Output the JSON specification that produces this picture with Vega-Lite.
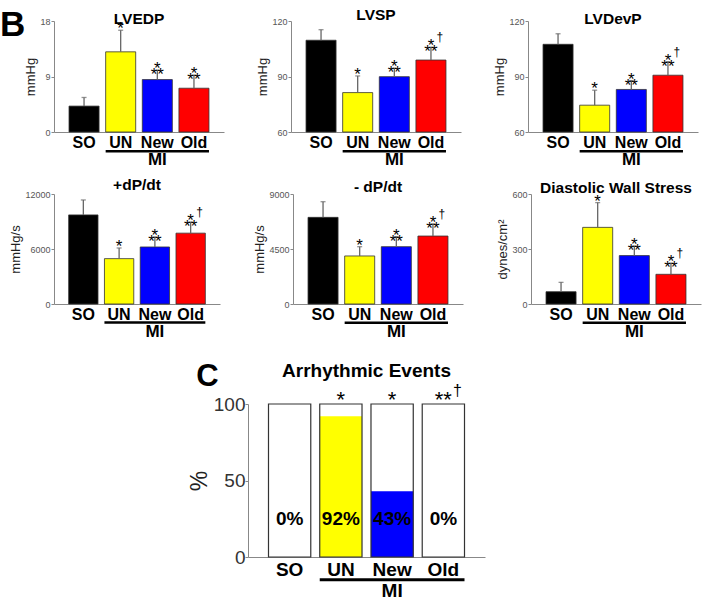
{
"$schema": "https://vega.github.io/schema/vega-lite/v6.json",
"background": "white",
"padding": {"left": 0, "right": 2, "top": 8, "bottom": 2},
"datasets": {
"bars": [
{"panel":"LVEDP","group":"SO","mean":4.2,"hi":5.6,"sig":"","dag":""},
{"panel":"LVEDP","group":"UN","mean":13.0,"hi":16.5,"sig":"*","dag":""},
{"panel":"LVEDP","group":"New","mean":8.5,"hi":10.0,"sig":"*\n**","dag":""},
{"panel":"LVEDP","group":"Old","mean":7.1,"hi":9.2,"sig":"*\n**","dag":""},
{"panel":"LVSP","group":"SO","mean":109.6,"hi":115.3,"sig":"","dag":""},
{"panel":"LVSP","group":"UN","mean":81.3,"hi":90.3,"sig":"*","dag":""},
{"panel":"LVSP","group":"New","mean":89.9,"hi":94.4,"sig":"*\n**","dag":""},
{"panel":"LVSP","group":"Old","mean":98.9,"hi":105.7,"sig":"*\n**","dag":"†"},
{"panel":"LVDevP","group":"SO","mean":107.4,"hi":113.1,"sig":"","dag":""},
{"panel":"LVDevP","group":"UN","mean":74.5,"hi":82.6,"sig":"*","dag":""},
{"panel":"LVDevP","group":"New","mean":83.0,"hi":87.8,"sig":"*\n**","dag":""},
{"panel":"LVDevP","group":"Old","mean":90.7,"hi":98.0,"sig":"*\n**","dag":"†"},
{"panel":"+dP/dt","group":"SO","mean":9720,"hi":11350,"sig":"","dag":""},
{"panel":"+dP/dt","group":"UN","mean":4950,"hi":6110,"sig":"*","dag":""},
{"panel":"+dP/dt","group":"New","mean":6220,"hi":7300,"sig":"*\n**","dag":""},
{"panel":"+dP/dt","group":"Old","mean":7730,"hi":8930,"sig":"*\n**","dag":"†"},
{"panel":"-dP/dt","group":"SO","mean":7090,"hi":8370,"sig":"","dag":""},
{"panel":"-dP/dt","group":"UN","mean":3930,"hi":4690,"sig":"*","dag":""},
{"panel":"-dP/dt","group":"New","mean":4690,"hi":5510,"sig":"*\n**","dag":""},
{"panel":"-dP/dt","group":"Old","mean":5560,"hi":6550,"sig":"*\n**","dag":"†"},
{"panel":"DWS","group":"SO","mean":67,"hi":118,"sig":"","dag":""},
{"panel":"DWS","group":"UN","mean":418,"hi":553,"sig":"*","dag":""},
{"panel":"DWS","group":"New","mean":264,"hi":316,"sig":"*\n**","dag":""},
{"panel":"DWS","group":"Old","mean":162,"hi":222,"sig":"*\n**","dag":"†"}
],
"mi": [
{"panel":"LVEDP","from":"UN","to":"Old","mid":"New","lineY":-3.11,"textY":-4.6,"label":"MI"},
{"panel":"LVSP","from":"UN","to":"Old","mid":"New","lineY":49.6,"textY":44.7,"label":"MI"},
{"panel":"LVDevP","from":"UN","to":"Old","mid":"New","lineY":49.6,"textY":44.7,"label":"MI"},
{"panel":"+dP/dt","from":"UN","to":"Old","mid":"New","lineY":-2027,"textY":-3089,"label":"MI"},
{"panel":"-dP/dt","from":"UN","to":"Old","mid":"New","lineY":-1530,"textY":-2331,"label":"MI"},
{"panel":"DWS","from":"UN","to":"Old","mid":"New","lineY":-102,"textY":-155,"label":"MI"},
{"panel":"ARR","from":"UN","to":"Old","mid":"New","lineY":-14.8,"textY":-22.1,"label":"MI"}
],
"arr": [
{"group":"SO","value":0,"full":100,"pct":"0%","labelY":25,"sig":"","dag":""},
{"group":"UN","value":92,"full":100,"pct":"92%","labelY":25,"sig":"*","dag":""},
{"group":"New","value":43,"full":100,"pct":"43%","labelY":25,"sig":"*","dag":""},
{"group":"Old","value":0,"full":100,"pct":"0%","labelY":25,"sig":"**","dag":"†"}
],
"blank": [{"item": "spacer"}]
},
"title": {"text": "B", "anchor": "start", "frame": "bounds", "fontSize": 35, "fontWeight": "bold", "offset": -35},
"spacing": 20,
"vconcat": [
{
"spacing": 9,
"vconcat": [
{
"spacing": 0,
"hconcat": [
{"width": 24, "height": 1, "data": {"name": "blank"}, "mark": {"type": "point", "opacity": 0}, "encoding": {}},
{
"spacing": 32,
"hconcat": [
{
"width": 170, "height": 111, "title": {"text": "LVEDP"},
"layer": [
{"data": {"name": "bars"}, "transform": [{"filter": "datum.panel === 'LVEDP'"}],
 "mark": {"type": "bar", "stroke": "#333", "strokeWidth": 0.8},
 "encoding": {
  "x": {"field": "group", "type": "nominal", "title": null, "scale": {"domain": ["SO","UN","New","Old"], "paddingInner": 0.18, "paddingOuter": 0.41, "align": 0.5}},
  "y": {"field": "mean", "type": "quantitative", "title": "mmHg", "scale": {"domain": [0, 18], "nice": false, "zero": false}, "axis": {"values": [0, 9, 18]}},
  "y2": {"datum": 0},
  "color": {"field": "group", "type": "nominal", "scale": {"domain": ["SO","UN","New","Old"], "range": ["#000000","#ffff00","#0000ff","#ff0000"]}, "legend": null}
 }},
{"data": {"name": "bars"}, "transform": [{"filter": "datum.panel === 'LVEDP'"}],
 "mark": {"type": "rule", "color": "#666", "strokeWidth": 1.3},
 "encoding": {"x": {"field": "group", "type": "nominal", "title": null}, "y": {"field": "mean", "type": "quantitative", "title": "mmHg"}, "y2": {"field": "hi"}}},
{"data": {"name": "bars"}, "transform": [{"filter": "datum.panel === 'LVEDP'"}],
 "mark": {"type": "tick", "color": "#666", "size": 5, "thickness": 1.3},
 "encoding": {"x": {"field": "group", "type": "nominal", "title": null}, "y": {"field": "hi", "type": "quantitative", "title": "mmHg"}}},
{"data": {"name": "bars"}, "transform": [{"filter": "datum.panel === 'LVEDP'"}],
 "mark": {"type": "text", "fill": "#000", "fontSize": 17, "lineHeight": 6, "lineBreak": "\n", "baseline": "bottom", "dy": 8},
 "encoding": {"x": {"field": "group", "type": "nominal", "title": null}, "y": {"field": "hi", "type": "quantitative", "title": "mmHg"}, "text": {"field": "sig"}}},
{"data": {"name": "mi"}, "transform": [{"filter": "datum.panel === 'LVEDP'"}],
 "mark": {"type": "rule", "color": "#000", "strokeWidth": 2.5},
 "encoding": {"x": {"field": "from", "type": "nominal", "bandPosition": 0, "title": null}, "x2": {"field": "to", "bandPosition": 1}, "y": {"field": "lineY", "type": "quantitative", "title": "mmHg"}}},
{"data": {"name": "mi"}, "transform": [{"filter": "datum.panel === 'LVEDP'"}],
 "mark": {"type": "text", "fill": "#000", "fontSize": 17, "fontWeight": "bold", "baseline": "middle"},
 "encoding": {"x": {"field": "mid", "type": "nominal", "title": null}, "y": {"field": "textY", "type": "quantitative", "title": "mmHg"}, "text": {"field": "label"}}}
]
},
{
"width": 170, "height": 111, "title": {"text": "LVSP"},
"layer": [
{"data": {"name": "bars"}, "transform": [{"filter": "datum.panel === 'LVSP'"}],
 "mark": {"type": "bar", "stroke": "#333", "strokeWidth": 0.8},
 "encoding": {
  "x": {"field": "group", "type": "nominal", "title": null, "scale": {"domain": ["SO","UN","New","Old"], "paddingInner": 0.18, "paddingOuter": 0.41, "align": 0.5}},
  "y": {"field": "mean", "type": "quantitative", "title": "mmHg", "scale": {"domain": [60, 120], "nice": false, "zero": false}, "axis": {"values": [60, 90, 120]}},
  "y2": {"datum": 60},
  "color": {"field": "group", "type": "nominal", "scale": {"domain": ["SO","UN","New","Old"], "range": ["#000000","#ffff00","#0000ff","#ff0000"]}, "legend": null}
 }},
{"data": {"name": "bars"}, "transform": [{"filter": "datum.panel === 'LVSP'"}],
 "mark": {"type": "rule", "color": "#666", "strokeWidth": 1.3},
 "encoding": {"x": {"field": "group", "type": "nominal", "title": null}, "y": {"field": "mean", "type": "quantitative", "title": "mmHg"}, "y2": {"field": "hi"}}},
{"data": {"name": "bars"}, "transform": [{"filter": "datum.panel === 'LVSP'"}],
 "mark": {"type": "tick", "color": "#666", "size": 5, "thickness": 1.3},
 "encoding": {"x": {"field": "group", "type": "nominal", "title": null}, "y": {"field": "hi", "type": "quantitative", "title": "mmHg"}}},
{"data": {"name": "bars"}, "transform": [{"filter": "datum.panel === 'LVSP'"}],
 "mark": {"type": "text", "fill": "#000", "fontSize": 17, "lineHeight": 6, "lineBreak": "\n", "baseline": "bottom", "dy": 8},
 "encoding": {"x": {"field": "group", "type": "nominal", "title": null}, "y": {"field": "hi", "type": "quantitative", "title": "mmHg"}, "text": {"field": "sig"}}},
{"data": {"name": "bars"}, "transform": [{"filter": "datum.panel === 'LVSP'"}],
 "mark": {"type": "text", "fill": "#000", "fontSize": 12, "baseline": "middle", "dx": 9, "dy": -10},
 "encoding": {"x": {"field": "group", "type": "nominal", "title": null}, "y": {"field": "hi", "type": "quantitative", "title": "mmHg"}, "text": {"field": "dag"}}},
{"data": {"name": "mi"}, "transform": [{"filter": "datum.panel === 'LVSP'"}],
 "mark": {"type": "rule", "color": "#000", "strokeWidth": 2.5},
 "encoding": {"x": {"field": "from", "type": "nominal", "bandPosition": 0, "title": null}, "x2": {"field": "to", "bandPosition": 1}, "y": {"field": "lineY", "type": "quantitative", "title": "mmHg"}}},
{"data": {"name": "mi"}, "transform": [{"filter": "datum.panel === 'LVSP'"}],
 "mark": {"type": "text", "fill": "#000", "fontSize": 17, "fontWeight": "bold", "baseline": "middle"},
 "encoding": {"x": {"field": "mid", "type": "nominal", "title": null}, "y": {"field": "textY", "type": "quantitative", "title": "mmHg"}, "text": {"field": "label"}}}
]
},
{
"width": 170, "height": 111, "title": {"text": "LVDevP"},
"layer": [
{"data": {"name": "bars"}, "transform": [{"filter": "datum.panel === 'LVDevP'"}],
 "mark": {"type": "bar", "stroke": "#333", "strokeWidth": 0.8},
 "encoding": {
  "x": {"field": "group", "type": "nominal", "title": null, "scale": {"domain": ["SO","UN","New","Old"], "paddingInner": 0.18, "paddingOuter": 0.41, "align": 0.5}},
  "y": {"field": "mean", "type": "quantitative", "title": "mmHg", "scale": {"domain": [60, 120], "nice": false, "zero": false}, "axis": {"values": [60, 90, 120]}},
  "y2": {"datum": 60},
  "color": {"field": "group", "type": "nominal", "scale": {"domain": ["SO","UN","New","Old"], "range": ["#000000","#ffff00","#0000ff","#ff0000"]}, "legend": null}
 }},
{"data": {"name": "bars"}, "transform": [{"filter": "datum.panel === 'LVDevP'"}],
 "mark": {"type": "rule", "color": "#666", "strokeWidth": 1.3},
 "encoding": {"x": {"field": "group", "type": "nominal", "title": null}, "y": {"field": "mean", "type": "quantitative", "title": "mmHg"}, "y2": {"field": "hi"}}},
{"data": {"name": "bars"}, "transform": [{"filter": "datum.panel === 'LVDevP'"}],
 "mark": {"type": "tick", "color": "#666", "size": 5, "thickness": 1.3},
 "encoding": {"x": {"field": "group", "type": "nominal", "title": null}, "y": {"field": "hi", "type": "quantitative", "title": "mmHg"}}},
{"data": {"name": "bars"}, "transform": [{"filter": "datum.panel === 'LVDevP'"}],
 "mark": {"type": "text", "fill": "#000", "fontSize": 17, "lineHeight": 6, "lineBreak": "\n", "baseline": "bottom", "dy": 8},
 "encoding": {"x": {"field": "group", "type": "nominal", "title": null}, "y": {"field": "hi", "type": "quantitative", "title": "mmHg"}, "text": {"field": "sig"}}},
{"data": {"name": "bars"}, "transform": [{"filter": "datum.panel === 'LVDevP'"}],
 "mark": {"type": "text", "fill": "#000", "fontSize": 12, "baseline": "middle", "dx": 9, "dy": -10},
 "encoding": {"x": {"field": "group", "type": "nominal", "title": null}, "y": {"field": "hi", "type": "quantitative", "title": "mmHg"}, "text": {"field": "dag"}}},
{"data": {"name": "mi"}, "transform": [{"filter": "datum.panel === 'LVDevP'"}],
 "mark": {"type": "rule", "color": "#000", "strokeWidth": 2.5},
 "encoding": {"x": {"field": "from", "type": "nominal", "bandPosition": 0, "title": null}, "x2": {"field": "to", "bandPosition": 1}, "y": {"field": "lineY", "type": "quantitative", "title": "mmHg"}}},
{"data": {"name": "mi"}, "transform": [{"filter": "datum.panel === 'LVDevP'"}],
 "mark": {"type": "text", "fill": "#000", "fontSize": 17, "fontWeight": "bold", "baseline": "middle"},
 "encoding": {"x": {"field": "mid", "type": "nominal", "title": null}, "y": {"field": "textY", "type": "quantitative", "title": "mmHg"}, "text": {"field": "label"}}}
]
}
]
}
]
},
{
"spacing": 0,
"hconcat": [
{"width": 9, "height": 1, "data": {"name": "blank"}, "mark": {"type": "point", "opacity": 0}, "encoding": {}},
{
"spacing": 33,
"hconcat": [
{
"width": 166, "height": 110, "title": {"text": "+dP/dt"},
"layer": [
{"data": {"name": "bars"}, "transform": [{"filter": "datum.panel === '+dP/dt'"}],
 "mark": {"type": "bar", "stroke": "#333", "strokeWidth": 0.8},
 "encoding": {
  "x": {"field": "group", "type": "nominal", "title": null, "scale": {"domain": ["SO","UN","New","Old"], "paddingInner": 0.18, "paddingOuter": 0.41, "align": 0.5}},
  "y": {"field": "mean", "type": "quantitative", "title": "mmHg/s", "scale": {"domain": [0, 12000], "nice": false, "zero": false}, "axis": {"values": [0, 6000, 12000], "format": "d"}},
  "y2": {"datum": 0},
  "color": {"field": "group", "type": "nominal", "scale": {"domain": ["SO","UN","New","Old"], "range": ["#000000","#ffff00","#0000ff","#ff0000"]}, "legend": null}
 }},
{"data": {"name": "bars"}, "transform": [{"filter": "datum.panel === '+dP/dt'"}],
 "mark": {"type": "rule", "color": "#666", "strokeWidth": 1.3},
 "encoding": {"x": {"field": "group", "type": "nominal", "title": null}, "y": {"field": "mean", "type": "quantitative", "title": "mmHg/s"}, "y2": {"field": "hi"}}},
{"data": {"name": "bars"}, "transform": [{"filter": "datum.panel === '+dP/dt'"}],
 "mark": {"type": "tick", "color": "#666", "size": 5, "thickness": 1.3},
 "encoding": {"x": {"field": "group", "type": "nominal", "title": null}, "y": {"field": "hi", "type": "quantitative", "title": "mmHg/s"}}},
{"data": {"name": "bars"}, "transform": [{"filter": "datum.panel === '+dP/dt'"}],
 "mark": {"type": "text", "fill": "#000", "fontSize": 17, "lineHeight": 6, "lineBreak": "\n", "baseline": "bottom", "dy": 8},
 "encoding": {"x": {"field": "group", "type": "nominal", "title": null}, "y": {"field": "hi", "type": "quantitative", "title": "mmHg/s"}, "text": {"field": "sig"}}},
{"data": {"name": "bars"}, "transform": [{"filter": "datum.panel === '+dP/dt'"}],
 "mark": {"type": "text", "fill": "#000", "fontSize": 12, "baseline": "middle", "dx": 9, "dy": -10},
 "encoding": {"x": {"field": "group", "type": "nominal", "title": null}, "y": {"field": "hi", "type": "quantitative", "title": "mmHg/s"}, "text": {"field": "dag"}}},
{"data": {"name": "mi"}, "transform": [{"filter": "datum.panel === '+dP/dt'"}],
 "mark": {"type": "rule", "color": "#000", "strokeWidth": 2.5},
 "encoding": {"x": {"field": "from", "type": "nominal", "bandPosition": 0, "title": null}, "x2": {"field": "to", "bandPosition": 1}, "y": {"field": "lineY", "type": "quantitative", "title": "mmHg/s"}}},
{"data": {"name": "mi"}, "transform": [{"filter": "datum.panel === '+dP/dt'"}],
 "mark": {"type": "text", "fill": "#000", "fontSize": 17, "fontWeight": "bold", "baseline": "middle"},
 "encoding": {"x": {"field": "mid", "type": "nominal", "title": null}, "y": {"field": "textY", "type": "quantitative", "title": "mmHg/s"}, "text": {"field": "label"}}}
]
},
{
"width": 170, "height": 110, "title": {"text": "- dP/dt"},
"layer": [
{"data": {"name": "bars"}, "transform": [{"filter": "datum.panel === '-dP/dt'"}],
 "mark": {"type": "bar", "stroke": "#333", "strokeWidth": 0.8},
 "encoding": {
  "x": {"field": "group", "type": "nominal", "title": null, "scale": {"domain": ["SO","UN","New","Old"], "paddingInner": 0.18, "paddingOuter": 0.41, "align": 0.5}},
  "y": {"field": "mean", "type": "quantitative", "title": "mmHg/s", "scale": {"domain": [0, 9000], "nice": false, "zero": false}, "axis": {"values": [0, 4500, 9000], "format": "d"}},
  "y2": {"datum": 0},
  "color": {"field": "group", "type": "nominal", "scale": {"domain": ["SO","UN","New","Old"], "range": ["#000000","#ffff00","#0000ff","#ff0000"]}, "legend": null}
 }},
{"data": {"name": "bars"}, "transform": [{"filter": "datum.panel === '-dP/dt'"}],
 "mark": {"type": "rule", "color": "#666", "strokeWidth": 1.3},
 "encoding": {"x": {"field": "group", "type": "nominal", "title": null}, "y": {"field": "mean", "type": "quantitative", "title": "mmHg/s"}, "y2": {"field": "hi"}}},
{"data": {"name": "bars"}, "transform": [{"filter": "datum.panel === '-dP/dt'"}],
 "mark": {"type": "tick", "color": "#666", "size": 5, "thickness": 1.3},
 "encoding": {"x": {"field": "group", "type": "nominal", "title": null}, "y": {"field": "hi", "type": "quantitative", "title": "mmHg/s"}}},
{"data": {"name": "bars"}, "transform": [{"filter": "datum.panel === '-dP/dt'"}],
 "mark": {"type": "text", "fill": "#000", "fontSize": 17, "lineHeight": 6, "lineBreak": "\n", "baseline": "bottom", "dy": 8},
 "encoding": {"x": {"field": "group", "type": "nominal", "title": null}, "y": {"field": "hi", "type": "quantitative", "title": "mmHg/s"}, "text": {"field": "sig"}}},
{"data": {"name": "bars"}, "transform": [{"filter": "datum.panel === '-dP/dt'"}],
 "mark": {"type": "text", "fill": "#000", "fontSize": 12, "baseline": "middle", "dx": 9, "dy": -10},
 "encoding": {"x": {"field": "group", "type": "nominal", "title": null}, "y": {"field": "hi", "type": "quantitative", "title": "mmHg/s"}, "text": {"field": "dag"}}},
{"data": {"name": "mi"}, "transform": [{"filter": "datum.panel === '-dP/dt'"}],
 "mark": {"type": "rule", "color": "#000", "strokeWidth": 2.5},
 "encoding": {"x": {"field": "from", "type": "nominal", "bandPosition": 0, "title": null}, "x2": {"field": "to", "bandPosition": 1}, "y": {"field": "lineY", "type": "quantitative", "title": "mmHg/s"}}},
{"data": {"name": "mi"}, "transform": [{"filter": "datum.panel === '-dP/dt'"}],
 "mark": {"type": "text", "fill": "#000", "fontSize": 17, "fontWeight": "bold", "baseline": "middle"},
 "encoding": {"x": {"field": "mid", "type": "nominal", "title": null}, "y": {"field": "textY", "type": "quantitative", "title": "mmHg/s"}, "text": {"field": "label"}}}
]
},
{
"width": 170, "height": 110, "title": {"text": "Diastolic Wall Stress"},
"layer": [
{"data": {"name": "bars"}, "transform": [{"filter": "datum.panel === 'DWS'"}],
 "mark": {"type": "bar", "stroke": "#333", "strokeWidth": 0.8},
 "encoding": {
  "x": {"field": "group", "type": "nominal", "title": null, "scale": {"domain": ["SO","UN","New","Old"], "paddingInner": 0.18, "paddingOuter": 0.41, "align": 0.5}},
  "y": {"field": "mean", "type": "quantitative", "title": "dynes/cm²", "scale": {"domain": [0, 600], "nice": false, "zero": false}, "axis": {"values": [0, 300, 600]}},
  "y2": {"datum": 0},
  "color": {"field": "group", "type": "nominal", "scale": {"domain": ["SO","UN","New","Old"], "range": ["#000000","#ffff00","#0000ff","#ff0000"]}, "legend": null}
 }},
{"data": {"name": "bars"}, "transform": [{"filter": "datum.panel === 'DWS'"}],
 "mark": {"type": "rule", "color": "#666", "strokeWidth": 1.3},
 "encoding": {"x": {"field": "group", "type": "nominal", "title": null}, "y": {"field": "mean", "type": "quantitative", "title": "dynes/cm²"}, "y2": {"field": "hi"}}},
{"data": {"name": "bars"}, "transform": [{"filter": "datum.panel === 'DWS'"}],
 "mark": {"type": "tick", "color": "#666", "size": 5, "thickness": 1.3},
 "encoding": {"x": {"field": "group", "type": "nominal", "title": null}, "y": {"field": "hi", "type": "quantitative", "title": "dynes/cm²"}}},
{"data": {"name": "bars"}, "transform": [{"filter": "datum.panel === 'DWS'"}],
 "mark": {"type": "text", "fill": "#000", "fontSize": 17, "lineHeight": 6, "lineBreak": "\n", "baseline": "bottom", "dy": 8},
 "encoding": {"x": {"field": "group", "type": "nominal", "title": null}, "y": {"field": "hi", "type": "quantitative", "title": "dynes/cm²"}, "text": {"field": "sig"}}},
{"data": {"name": "bars"}, "transform": [{"filter": "datum.panel === 'DWS'"}],
 "mark": {"type": "text", "fill": "#000", "fontSize": 12, "baseline": "middle", "dx": 9, "dy": -10},
 "encoding": {"x": {"field": "group", "type": "nominal", "title": null}, "y": {"field": "hi", "type": "quantitative", "title": "dynes/cm²"}, "text": {"field": "dag"}}},
{"data": {"name": "mi"}, "transform": [{"filter": "datum.panel === 'DWS'"}],
 "mark": {"type": "rule", "color": "#000", "strokeWidth": 2.5},
 "encoding": {"x": {"field": "from", "type": "nominal", "bandPosition": 0, "title": null}, "x2": {"field": "to", "bandPosition": 1}, "y": {"field": "lineY", "type": "quantitative", "title": "dynes/cm²"}}},
{"data": {"name": "mi"}, "transform": [{"filter": "datum.panel === 'DWS'"}],
 "mark": {"type": "text", "fill": "#000", "fontSize": 17, "fontWeight": "bold", "baseline": "middle"},
 "encoding": {"x": {"field": "mid", "type": "nominal", "title": null}, "y": {"field": "textY", "type": "quantitative", "title": "dynes/cm²"}, "text": {"field": "label"}}}
]
}
]
}
]
}
]
},
{
"spacing": 0,
"hconcat": [
{"width": 188, "height": 1, "data": {"name": "blank"}, "mark": {"type": "point", "opacity": 0}, "encoding": {}},
{
"title": {"text": "C", "anchor": "start", "frame": "bounds", "fontSize": 31, "fontWeight": "bold", "offset": -31, "dx": 8},
"vconcat": [
{
"width": 237, "height": 153, "title": {"text": "Arrhythmic Events", "fontSize": 19, "offset": 2},
"layer": [
{"data": {"name": "arr"},
 "mark": {"type": "bar"},
 "encoding": {
  "x": {"field": "group", "type": "nominal", "title": null, "scale": {"domain": ["SO","UN","New","Old"], "paddingInner": 0.175, "paddingOuter": 0.4, "align": 0.5},
        "axis": {"labelFontSize": 19, "labelPadding": 3}},
  "y": {"field": "value", "type": "quantitative", "title": "%", "scale": {"domain": [0, 100], "nice": false, "zero": false},
        "axis": {"values": [0, 50, 100], "labelFontSize": 19, "labelColor": "#333", "tickSize": 3, "labelPadding": 0, "titleFontSize": 23, "titlePadding": 2, "titleColor": "#222"}},
  "y2": {"datum": 0},
  "color": {"field": "group", "type": "nominal", "scale": {"domain": ["SO","UN","New","Old"], "range": ["#ffffff","#ffff00","#0000ff","#ffffff"]}, "legend": null}
 }},
{"data": {"name": "arr"},
 "mark": {"type": "bar", "fill": "transparent", "stroke": "#333", "strokeWidth": 1.2},
 "encoding": {"x": {"field": "group", "type": "nominal", "title": null}, "y": {"field": "full", "type": "quantitative", "title": "%"}, "y2": {"datum": 0}}},
{"data": {"name": "arr"},
 "mark": {"type": "text", "fill": "#000", "fontSize": 19, "fontWeight": "bold", "baseline": "middle"},
 "encoding": {"x": {"field": "group", "type": "nominal", "title": null}, "y": {"field": "labelY", "type": "quantitative", "title": "%"}, "text": {"field": "pct"}}},
{"data": {"name": "arr"},
 "mark": {"type": "text", "fill": "#000", "fontSize": 22, "baseline": "bottom", "dy": 8},
 "encoding": {"x": {"field": "group", "type": "nominal", "title": null}, "y": {"field": "full", "type": "quantitative", "title": "%"}, "text": {"field": "sig"}}},
{"data": {"name": "arr"},
 "mark": {"type": "text", "fill": "#000", "fontSize": 16, "baseline": "middle", "dx": 14, "dy": -13},
 "encoding": {"x": {"field": "group", "type": "nominal", "title": null}, "y": {"field": "full", "type": "quantitative", "title": "%"}, "text": {"field": "dag"}}},
{"data": {"name": "mi"}, "transform": [{"filter": "datum.panel === 'ARR'"}],
 "mark": {"type": "rule", "color": "#000", "strokeWidth": 3},
 "encoding": {"x": {"field": "from", "type": "nominal", "bandPosition": 0, "title": null}, "x2": {"field": "to", "bandPosition": 1}, "y": {"field": "lineY", "type": "quantitative", "title": "%"}}},
{"data": {"name": "mi"}, "transform": [{"filter": "datum.panel === 'ARR'"}],
 "mark": {"type": "text", "fill": "#000", "fontSize": 19, "fontWeight": "bold", "baseline": "middle"},
 "encoding": {"x": {"field": "mid", "type": "nominal", "title": null}, "y": {"field": "textY", "type": "quantitative", "title": "%"}, "text": {"field": "label"}}}
]
}
]
}
]
}
],
"config": {
 "font": "Liberation Sans",
 "view": {"stroke": null},
 "axis": {"grid": false, "domainColor": "#888", "tickColor": "#888", "labelFont": "Liberation Sans", "titleFont": "Liberation Sans"},
 "axisX": {"ticks": false, "labelAngle": 0, "labelFontSize": 16, "labelFontWeight": "bold", "labelColor": "#000", "labelPadding": 2, "labelOverlap": false},
 "axisY": {"labelFontSize": 9, "labelColor": "#555", "tickSize": 3, "labelPadding": 1, "titleFontSize": 13, "titleFontWeight": "normal", "titleColor": "#222", "titlePadding": 2},
 "title": {"fontSize": 15.5, "fontWeight": "bold", "color": "#000", "offset": -10, "font": "Liberation Sans"},
 "text": {"font": "Liberation Sans", "color": "#000"}
}
}
